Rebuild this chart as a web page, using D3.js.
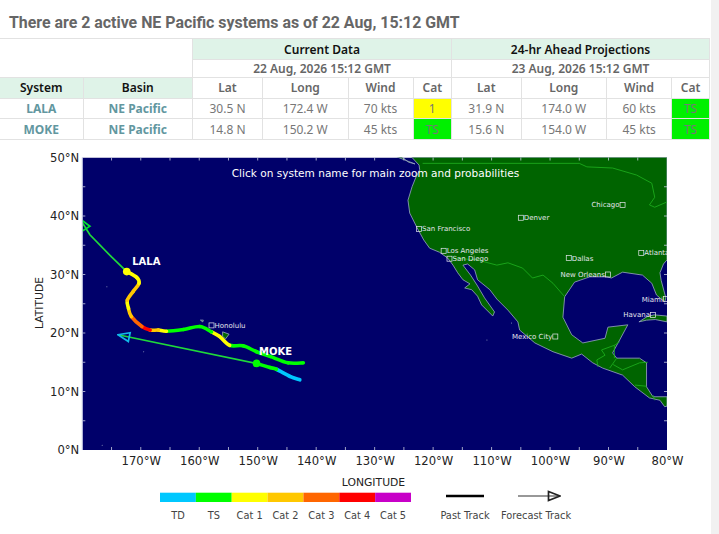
<!DOCTYPE html>
<html>
<head>
<meta charset="utf-8">
<script src="https://cdn.jsdelivr.net/npm/d3@7"></script>
<style>
  html, body { margin: 0; padding: 0; background: #fff; overflow: hidden; }
  #scrollbar { position: absolute; left: 711px; top: 0; width: 8px; height: 534px; background: #f1f1f1; }
  #title { position: absolute; left: 9px; top: 13px; font: 700 15.9px Roboto, sans-serif; color: #666; white-space: nowrap; }
  table { position: absolute; left: -1px; top: 38px; border-collapse: collapse; table-layout: fixed; width: 710px;
          font: 12px "Noto Sans", sans-serif; text-align: center; color: #777; }
  td { border: 1px solid #e2e2e2; padding: 0; overflow: hidden; white-space: nowrap; }
  .head { background: #dff3e8; color: #111; font-weight: 600; }
  .sub { color: #666; font-weight: 600; }
  .link { color: #62979f; font-weight: 700; }
  #plot { position: absolute; left: 0; top: 0; }
  #plot text { font-family: "DejaVu Sans", sans-serif; }
</style>
</head>
<body>
<div id="title"></div>
<div id="tableBox"></div>
<div id="scrollbar"></div>
<svg id="plot" width="711" height="534" style="top:0"></svg>
<script>
const titleText = "There are 2 active NE Pacific systems as of 22 Aug, 15:12 GMT";
const columns = ["System", "Basin", "Lat", "Long", "Wind", "Cat", "Lat", "Long", "Wind", "Cat"];
const columnWidths = [83.5, 109.5, 70, 85.5, 65, 38.5, 69.5, 85.5, 65, 38];
const rowHeights = [21, 18, 20.5, 20.5, 21];
const tableRows = [
  ["LALA", "NE Pacific", "30.5 N", "172.4 W", "70 kts", "1", "31.9 N", "174.0 W", "60 kts", "TS"],
  ["MOKE", "NE Pacific", "14.8 N", "150.2 W", "45 kts", "TS", "15.6 N", "154.0 W", "45 kts", "TS"]
];

const catNames = ["TD", "TS", "Cat 1", "Cat 2", "Cat 3", "Cat 4", "Cat 5"];
const catColors = ["#00c8ff", "#00ff00", "#ffff00", "#ffc800", "#ff6600", "#ff0000", "#c800c8"];
const catCellColors = { "1": "#ffff00", "TS": "#00f000" };

const lonTicks = [-170, -160, -150, -140, -130, -120, -110, -100, -90, -80];
const latTicks = [0, 10, 20, 30, 40, 50];
const lonMinor = [-175, -170, -165, -160, -155, -150, -145, -140, -135, -130, -125, -120, -115, -110, -105, -100, -95, -90, -85];
const latMinor = [5, 10, 15, 20, 25, 30, 35, 40, 45];

// past tracks, oldest point first, cat = category of the segment that ends at the point
const lalaTrack = [
  [-142.2, 14.9, "TD"], [-144.8, 14.9, "TS"], [-147.9, 16.0, "TS"], [-150.2, 16.8, "TS"], [-152.5, 17.8, "TS"],
  [-154.8, 17.9, "TS"], [-156.5, 19.4, "Cat 1"], [-157.9, 20.2, "Cat 1"], [-159.9, 21.1, "TS"], [-162.7, 20.6, "TS"],
  [-165.6, 20.3, "TS"], [-167.0, 20.5, "Cat 1"], [-168.4, 20.5, "Cat 2"], [-169.8, 21.1, "Cat 4"], [-171.6, 22.8, "Cat 3"],
  [-172.1, 24.2, "Cat 2"], [-172.3, 25.6, "Cat 1"], [-171.3, 27.1, "Cat 2"], [-170.3, 28.5, "Cat 2"], [-170.7, 29.5, "Cat 1"],
  [-172.4, 30.5, "Cat 1"]
];
const mokeTrack = [
  [-142.8, 12.0, "TD"], [-144.5, 12.6, "TD"], [-146.8, 13.8, "TD"], [-147.9, 14.1, "TS"], [-150.2, 14.8, "TS"]
];
const lalaForecast = [[-172.4, 30.5], [-175.0, 33.0], [-178.7, 36.8], [-180.4, 39.5]];
const mokeForecast = [[-150.2, 14.8], [-173.9, 19.7]];

const mainland = [
  [-123.7, 50.1], [-122.4, 48.7], [-122.3, 47.9], [-123.0, 46.5], [-123.6, 45.0], [-124.3, 42.7], [-124.0, 40.5],
  [-122.8, 38.1], [-121.6, 35.9], [-120.6, 34.5], [-118.9, 33.8], [-117.5, 32.8], [-116.6, 31.6], [-115.8, 30.3],
  [-114.9, 29.1], [-113.7, 28.4], [-114.6, 27.7], [-113.4, 27.4], [-112.4, 26.3], [-111.7, 24.8], [-109.8, 22.9],
  [-109.5, 23.6], [-111.2, 26.0], [-112.5, 28.2], [-113.6, 29.9], [-114.9, 31.6], [-114.1, 31.8], [-112.9, 30.8],
  [-112.4, 29.1], [-110.3, 27.4], [-109.1, 25.8], [-107.2, 23.9], [-105.5, 21.9], [-105.2, 20.5], [-102.6, 18.3],
  [-99.5, 16.8], [-96.3, 15.7], [-94.6, 16.4], [-92.7, 14.9], [-91.0, 14.0], [-87.6, 12.8], [-85.5, 10.8], [-83.0, 8.9],
  [-81.2, 8.5], [-80.4, 7.4], [-80.0, 7.5], [-80.0, 9.1], [-82.4, 9.1], [-83.5, 10.8], [-83.5, 14.9], [-84.7, 15.7],
  [-88.6, 15.7], [-89.3, 16.6], [-88.1, 18.8], [-86.7, 21.4], [-90.1, 21.0], [-90.6, 19.1], [-94.4, 18.3], [-96.3, 19.7],
  [-97.8, 22.7], [-97.5, 26.2], [-95.8, 28.7], [-93.2, 29.6], [-90.3, 29.6], [-89.5, 29.4], [-87.6, 30.4], [-84.2, 29.9],
  [-82.6, 28.5], [-81.8, 26.5], [-80.4, 25.3], [-80.2, 26.0], [-81.0, 29.0], [-81.2, 30.3], [-80.6, 31.8], [-80.0, 32.5],
  [-80.0, 50.1]
];
const islands = [
  [[-126.2, 50.1], [-123.1, 48.9], [-124.2, 49.2], [-125.4, 50.1]],
  [[-84.8, 21.9], [-83.4, 22.8], [-82.2, 23.1], [-80.0, 22.9], [-80.0, 21.9], [-82.0, 22.3], [-83.5, 22.2]],
  [[-156.0, 20.2], [-154.9, 19.8], [-155.5, 19.0], [-156.0, 19.4]],
  [[-159.8, 22.2], [-159.3, 22.2], [-159.4, 21.9]]
];
const islets = [[-175.8, 27.9], [-169.5, 16.8], [-106.6, 21.7], [-110.8, 18.8], [-176.6, 0.8]];

const borders = [
  [[-121.8, 49], [-95.0, 49], [-93.7, 48.4], [-89.3, 48.2], [-85.2, 47], [-82.6, 45.6], [-82.1, 43.2], [-83, 41.9], [-82.1, 41.5], [-80, 42.4]],
  [[-116.6, 32.8], [-112.5, 32.5], [-109.1, 31.6], [-107.2, 32], [-104.7, 31.1], [-103, 29.4], [-101.2, 29.9], [-99.5, 28.5], [-97.5, 26.2]],
  [[-88.1, 18.5], [-89, 17.9], [-91.2, 17.1], [-90.6, 16.2], [-92, 15.4], [-91.8, 14.2]],
  [[-89, 17.9], [-89, 15.7]],
  [[-88.6, 15.7], [-89.8, 14]],
  [[-89.2, 14.6], [-87.6, 13.7], [-84.7, 14.9], [-83.3, 15]],
  [[-85.5, 11.1], [-83.5, 10.9]],
  [[-82.4, 9.4], [-82.1, 8.5]]
];

const cityNames = ["San Francisco", "Denver", "Chicago", "Los Angeles", "San Diego", "Dallas", "New Orleans", "Atlanta", "Miami", "Havana", "Mexico City", "Honolulu"];
const cityLon = [-122.4, -105, -87.6, -118.2, -117.2, -96.8, -90.1, -84.4, -80.2, -82.4, -99.1, -157.9];
const cityLat = [37.8, 39.7, 41.9, 34.05, 32.7, 32.8, 30, 33.7, 25.8, 23.1, 19.4, 21.3];
const cityLabelLeft = ["Chicago", "New Orleans", "Miami", "Havana", "Mexico City"];

// ------------------------- title and table -------------------------
d3.select("#title").text(titleText);
const table = d3.select("#tableBox").append("table");
table.append("colgroup").selectAll("col").data(columnWidths).enter().append("col").style("width", d => d + "px");

const row1 = table.append("tr").style("height", rowHeights[0] + "px");
row1.append("td").attr("colspan", 2).attr("rowspan", 2);
row1.append("td").attr("colspan", 4).attr("class", "head").text("Current Data");
row1.append("td").attr("colspan", 4).attr("class", "head").text("24-hr Ahead Projections");

const row2 = table.append("tr").style("height", rowHeights[1] + "px");
row2.append("td").attr("colspan", 4).attr("class", "sub").text("22 Aug, 2026 15:12 GMT");
row2.append("td").attr("colspan", 4).attr("class", "sub").text("23 Aug, 2026 15:12 GMT");

table.append("tr").style("height", rowHeights[2] + "px").selectAll("td").data(columns).enter().append("td")
  .attr("class", (d, i) => i < 2 ? "head" : "sub")
  .text(d => d);

table.selectAll("tr.data").data(tableRows).enter().append("tr").attr("class", "data")
  .style("height", (d, i) => rowHeights[i + 3] + "px")
  .selectAll("td").data(d => d).enter().append("td")
  .attr("class", (d, i) => i < 2 ? "link" : null)
  .style("background", (d, i) => (i == 5 || i == 9) ? catCellColors[d] : null)
  .text(d => d);

// ------------------------- map -------------------------
const x = d3.scaleLinear().domain([-180, -80]).range([82.3, 667]);
const y = d3.scaleLinear().domain([0, 50]).range([450, 157.5]);
const svg = d3.select("#plot");

const defs = svg.append("defs");
defs.append("clipPath").attr("id", "mapClip").append("rect")
  .attr("x", x(-180)).attr("y", y(50)).attr("width", x(-80) - x(-180)).attr("height", y(0) - y(50));

const arrowColors = [["Green", "#00e030"], ["Cyan", "#10b8e8"], ["Black", "#222"]];
defs.selectAll("marker").data(arrowColors).enter().append("marker")
  .attr("id", d => "arrow" + d[0])
  .attr("viewBox", "0 0 14 12").attr("refX", 13).attr("refY", 6)
  .attr("markerUnits", "userSpaceOnUse").attr("markerWidth", 14).attr("markerHeight", 12)
  .attr("orient", "auto")
  .append("path").attr("d", "M1.5,1.5L13,6L1.5,10.5Z")
  .attr("fill", "none").attr("stroke", d => d[1]).attr("stroke-width", 1.7);

const map = svg.append("g").attr("clip-path", "url(#mapClip)");
const geoLine = d3.line().x(d => x(d[0])).y(d => y(d[1]));

map.append("rect").attr("x", x(-180)).attr("y", y(50)).attr("width", x(-80) - x(-180)).attr("height", y(0) - y(50))
  .attr("fill", "#00006a");

map.selectAll(".land").data([mainland].concat(islands)).enter().append("path")
  .attr("class", "land")
  .attr("d", d => geoLine(d) + "Z")
  .attr("fill", "#006400").attr("stroke", "#9aa6c4").attr("stroke-width", 0.8);

map.selectAll(".border").data(borders).enter().append("path")
  .attr("class", "border")
  .attr("d", geoLine)
  .attr("fill", "none").attr("stroke", "#1fb31f").attr("stroke-width", 0.8);

map.selectAll(".islet").data(islets).enter().append("circle")
  .attr("cx", d => x(d[0])).attr("cy", d => y(d[1])).attr("r", 0.5).attr("fill", "#9aa6c4");

// axes: ticks point into the map
const axisX = d3.axisBottom(x).tickValues(lonTicks).tickSize(0).tickPadding(7)
  .tickFormat(d => Math.abs(d) + "°W");
const axisY = d3.axisLeft(y).tickValues(latTicks).tickSize(0).tickPadding(3)
  .tickFormat(d => d + "°N");

const gx = svg.append("g").attr("transform", "translate(0," + y(0) + ")").call(axisX);
const gy = svg.append("g").attr("transform", "translate(" + x(-180) + ",0)").call(axisY);
[gx, gy].forEach(g => {
  g.select(".domain").remove();
  g.selectAll("text").attr("font-size", 11.6).attr("fill", "#222");
});

const tickGroup = svg.append("g").attr("stroke", "#c8cde0").attr("stroke-width", 0.8);
lonMinor.forEach(d => {
  tickGroup.append("line").attr("x1", x(d)).attr("x2", x(d)).attr("y1", y(50)).attr("y2", y(50) + 3);
  tickGroup.append("line").attr("x1", x(d)).attr("x2", x(d)).attr("y1", y(0)).attr("y2", y(0) - 3);
});
latMinor.forEach(d => {
  tickGroup.append("line").attr("x1", x(-180)).attr("x2", x(-180) + 3).attr("y1", y(d)).attr("y2", y(d));
  tickGroup.append("line").attr("x1", x(-80)).attr("x2", x(-80) - 3).attr("y1", y(d)).attr("y2", y(d));
});
svg.append("line").attr("x1", x(-180)).attr("x2", x(-180)).attr("y1", y(50)).attr("y2", y(0))
  .attr("stroke", "#b9bfe0").attr("stroke-width", 1);

// cities
const cities = map.selectAll(".city").data(cityNames).enter().append("g")
  .attr("class", "city")
  .attr("transform", (d, i) => "translate(" + x(cityLon[i]) + "," + y(cityLat[i]) + ")");
cities.append("rect").attr("x", -2.5).attr("y", -2.5).attr("width", 5).attr("height", 5)
  .attr("fill", "none").attr("stroke", "#e8e8f0").attr("stroke-width", 0.7);
cities.append("text")
  .attr("x", d => cityLabelLeft.includes(d) ? -3 : 3)
  .attr("y", 2.5)
  .attr("text-anchor", d => cityLabelLeft.includes(d) ? "end" : "start")
  .attr("font-size", 7).attr("fill", "#e4e4ec")
  .text(d => d);

// tracks: each coloured piece is one catmull-rom span so the track stays smooth across colours
const catColor = d3.scaleOrdinal().domain(catNames).range(catColors);
function trackPiece(track, i) {
  const p = k => {
    const d = track[Math.max(0, Math.min(track.length - 1, k))];
    return [x(d[0]), y(d[1])];
  };
  const p0 = p(i - 1), p1 = p(i), p2 = p(i + 1), p3 = p(i + 2);
  const c1 = [p1[0] + (p2[0] - p0[0]) / 6, p1[1] + (p2[1] - p0[1]) / 6];
  const c2 = [p2[0] - (p3[0] - p1[0]) / 6, p2[1] - (p3[1] - p1[1]) / 6];
  return "M" + p1 + "C" + c1 + " " + c2 + " " + p2;
}
function drawTrack(track) {
  map.append("g").selectAll("path").data(track.slice(1)).enter().append("path")
    .attr("d", (d, i) => trackPiece(track, i))
    .attr("fill", "none")
    .attr("stroke", d => catColor(d[2]))
    .attr("stroke-width", 3.6)
    .attr("stroke-linecap", "round");
}
drawTrack(lalaTrack);
drawTrack(mokeTrack);

map.append("path").attr("d", geoLine(lalaForecast)).attr("fill", "none")
  .attr("stroke", "#1fd93a").attr("stroke-width", 1.7).attr("marker-end", "url(#arrowGreen)");
map.append("path").attr("d", geoLine(mokeForecast)).attr("fill", "none")
  .attr("stroke", "#1fd93a").attr("stroke-width", 1.7).attr("marker-end", "url(#arrowCyan)");

const lalaNow = lalaTrack[lalaTrack.length - 1];
const mokeNow = mokeTrack[mokeTrack.length - 1];
map.append("circle").attr("cx", x(lalaNow[0])).attr("cy", y(lalaNow[1])).attr("r", 3.8).attr("fill", catColor("Cat 1"));
map.append("circle").attr("cx", x(mokeNow[0])).attr("cy", y(mokeNow[1])).attr("r", 3.8).attr("fill", catColor("TS"));

map.append("text").attr("x", x(lalaNow[0]) + 5.5).attr("y", y(lalaNow[1]) - 7)
  .attr("font-size", 10).attr("font-weight", 700).attr("fill", "#fff").text("LALA");
map.append("text").attr("x", x(mokeNow[0]) + 2.5).attr("y", y(mokeNow[1]) - 8)
  .attr("font-size", 10).attr("font-weight", 700).attr("fill", "#fff").text("MOKE");

map.append("text").attr("x", 375.5).attr("y", 177).attr("text-anchor", "middle")
  .attr("font-size", 10.55).attr("fill", "#fff").text("Click on system name for main zoom and probabilities");

svg.append("text").attr("x", 373.5).attr("y", 486).attr("text-anchor", "middle")
  .attr("font-size", 10.8).attr("fill", "#222").text("LONGITUDE");
svg.append("text").attr("transform", "translate(43,303) rotate(-90)").attr("text-anchor", "middle")
  .attr("font-size", 10.8).attr("fill", "#222").text("LATITUDE");

// ------------------------- legend -------------------------
const legendX = d3.scaleBand().domain(catNames).range([160, 411]);
svg.selectAll(".legendCell").data(catNames).enter().append("rect")
  .attr("class", "legendCell")
  .attr("x", d => legendX(d)).attr("y", 492.7).attr("width", legendX.bandwidth()).attr("height", 9.3)
  .attr("fill", d => catColor(d));
svg.selectAll(".legendText").data(catNames).enter().append("text")
  .attr("class", "legendText")
  .attr("x", d => legendX(d) + legendX.bandwidth() / 2).attr("y", 518.5).attr("text-anchor", "middle")
  .attr("font-size", 9.8).attr("fill", "#444")
  .text(d => d);

svg.append("line").attr("x1", 446).attr("x2", 484).attr("y1", 496).attr("y2", 496)
  .attr("stroke", "#000").attr("stroke-width", 2.4);
svg.append("line").attr("x1", 518).attr("x2", 560).attr("y1", 496).attr("y2", 496)
  .attr("stroke", "#333").attr("stroke-width", 1.2).attr("marker-end", "url(#arrowBlack)");
svg.append("text").attr("x", 465).attr("y", 518.5).attr("text-anchor", "middle")
  .attr("font-size", 9.8).attr("fill", "#444").text("Past Track");
svg.append("text").attr("x", 536).attr("y", 518.5).attr("text-anchor", "middle")
  .attr("font-size", 9.8).attr("fill", "#444").text("Forecast Track");
</script>
</body>
</html>
